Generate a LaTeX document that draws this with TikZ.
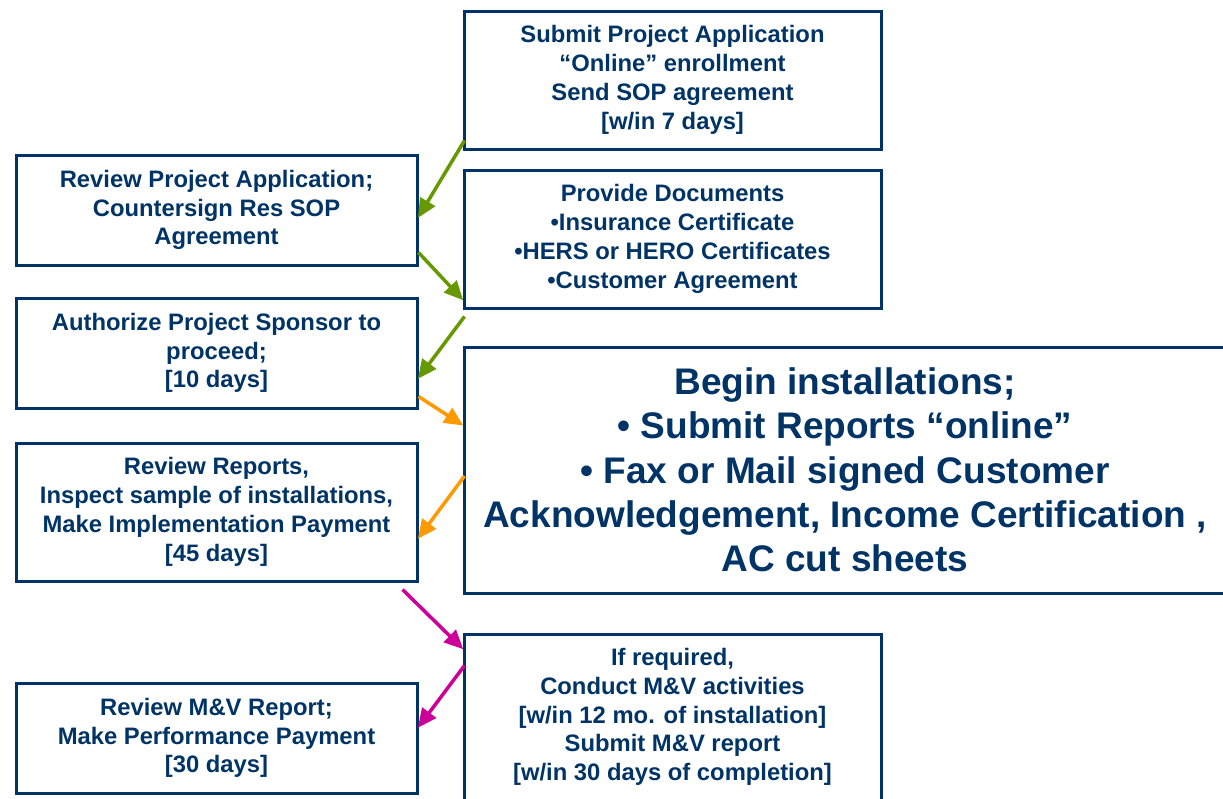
\documentclass[tikz,border=0pt]{standalone}
\usepackage{fontspec}
\setmainfont{Liberation Sans}
\usetikzlibrary{arrows.meta}
\definecolor{navy}{RGB}{0,51,102}
\definecolor{agreen}{RGB}{102,153,0}
\definecolor{aorange}{RGB}{255,153,0}
\definecolor{amagenta}{RGB}{204,0,153}
\tikzset{
  box/.style={draw=navy, line width=3pt, fill=white, text=navy, align=center, inner sep=0pt,
    font=\bfseries\fontsize{23.8}{28.8}\selectfont},
  bigbox/.style={box, font=\bfseries\fontsize{37}{44.3}\selectfont},
  conn/.style={line width=3.5pt, -{Triangle[length=19pt,width=17pt]}, shorten >=-1pt},
}
\begin{document}
\begin{tikzpicture}[x=1pt,y=-1pt]
\clip (0,0) rectangle (1223,798);
\fill[white] (0,0) rectangle (1223,798);
\node[box, minimum width=417pt, minimum height=138pt] (A) at (672.5,80)
  {Submit Project Application\\“Online” enrollment\\Send SOP agreement\\{}[w/in 7 days]};
\node[box, minimum width=401pt, minimum height=110pt] (B) at (216.5,210)
  {Review Project Application;\\Countersign Res SOP\\Agreement};
\node[box, minimum width=417pt, minimum height=138pt] (C) at (672.5,239)
  {Provide Documents\\•Insurance Certificate\\•HERS or HERO Certificates\\•Customer Agreement};
\node[box, minimum width=401pt, minimum height=110pt] (D) at (216.5,353)
  {Authorize Project Sponsor to\\proceed;\\{}[10 days]};
\node[bigbox, minimum width=762pt, minimum height=246pt] (E) at (845,470)
  {Begin installations;\\• Submit Reports “online”\\• Fax or Mail signed Customer\\Acknowledgement, Income Certification ,\\AC cut sheets};
\node[box, minimum width=401pt, minimum height=138pt] (F) at (216.5,512)
  {Review Reports,\\Inspect sample of installations,\\Make Implementation Payment\\{}[45 days]};
\node[box, minimum width=417pt, minimum height=166pt] (G) at (672.5,717)
  {If required,\\Conduct M\&V activities\\{}[w/in 12 mo. of installation]\\Submit M\&V report\\{}[w/in 30 days of completion]};
\node[box, minimum width=401pt, minimum height=110pt] (H) at (216.5,738)
  {Review M\&V Report;\\Make Performance Payment\\{}[30 days]};
\draw[conn, agreen] ([shift={(2,-10)}]A.south west) -- ([shift={(0,7)}]B.east);
\draw[conn, agreen] ([shift={(0,-14)}]B.south east) -- ([shift={(0,-10)}]C.south west);
\draw[conn, agreen] ([shift={(2,7)}]C.south west) -- ([shift={(0,25)}]D.east);
\draw[conn, aorange] ([shift={(0,-13)}]D.south east) -- ([shift={(0,-45)}]E.west);
\draw[conn, aorange] ([shift={(2,6)}]E.west) -- ([shift={(0,26)}]F.east);
\draw[conn, amagenta] ([shift={(-16,7)}]F.south east) -- ([shift={(0,16)}]G.north west);
\draw[conn, amagenta] ([shift={(2,33)}]G.north west) -- ([shift={(0,-11)}]H.east);
\end{tikzpicture}
\end{document}
